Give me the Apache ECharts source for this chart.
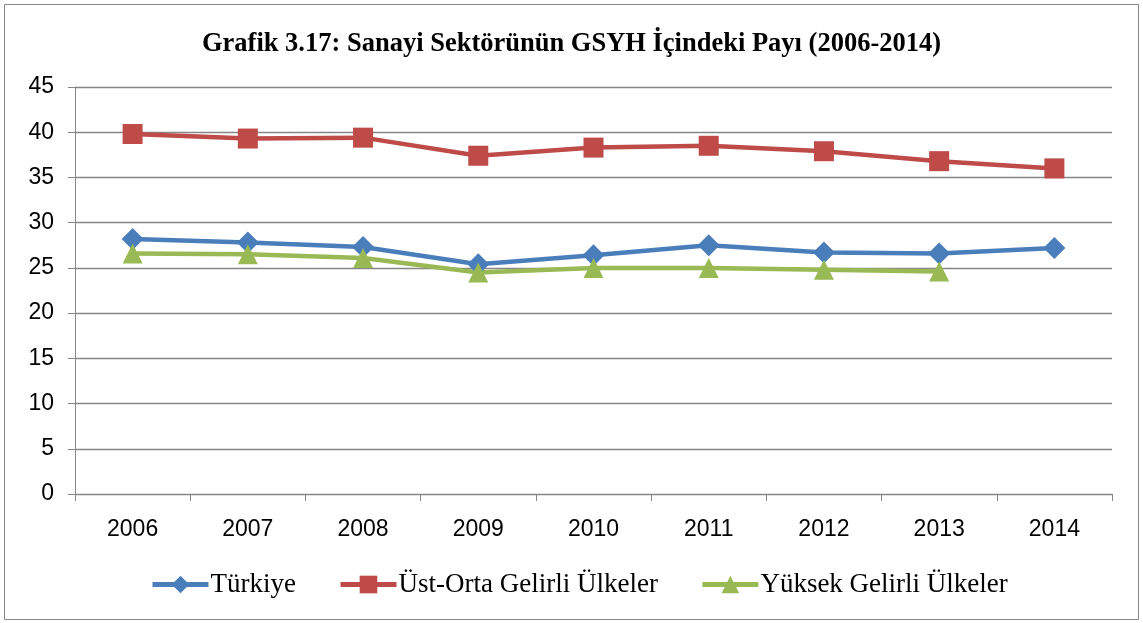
<!DOCTYPE html>
<html>
<head>
<meta charset="utf-8">
<script src="https://cdn.jsdelivr.net/npm/echarts@6/dist/echarts.min.js"></script>
<style>
html,body{margin:0;padding:0;background:#fff;}
#chart{width:1143px;height:623px;}
</style>
</head>
<body>
<div id="chart"></div>
<script>
// yıllar ve seriler
var years = ['2006','2007','2008','2009','2010','2011','2012','2013','2014'];
var turkiye = [28.2, 27.8, 27.3, 25.4, 26.4, 27.5, 26.7, 26.6, 27.2];
var ustOrta = [39.8, 39.3, 39.4, 37.4, 38.3, 38.5, 37.9, 36.8, 36.0];
var yuksek = [26.6, 26.5, 26.1, 24.5, 25.0, 25.0, 24.8, 24.6, null];
var seriesNames = ['Türkiye', 'Üst-Orta Gelirli Ülkeler', 'Yüksek Gelirli Ülkeler'];

var chart = echarts.init(document.getElementById('chart'));

function lineSeries(name, data, color, symbol, size){
	return {
		name: name,
		type: 'line',
		data: data,
		symbol: symbol,
		symbolSize: size,
		connectNulls: false,
		lineStyle: {width: 4.5, color: color},
		itemStyle: {color: color},
		emphasis: {disabled: true},
		animation: false
	};
}

var option = {
	backgroundColor: '#fff',
	title: {
		text: 'Grafik 3.17: Sanayi Sektörünün GSYH İçindeki Payı (2006-2014)',
		left: 'center',
		top: 26,
		textStyle: {fontFamily: 'Liberation Serif', fontWeight: 'bold', fontSize: 26.5, color: '#000'}
	},
	legend: {
		bottom: 20,
		left: 145,
		itemWidth: 56,
		itemHeight: 22,
		itemGap: 42,
		data: seriesNames,
		lineStyle: {width: 5},
		textStyle: {fontFamily: 'Liberation Serif', fontSize: 27, color: '#000', padding: [0, 0, 0, -3]}
	},
	grid: {left: 75, right: 31, top: 87, bottom: 129},
	xAxis: {
		type: 'category',
		data: years,
		boundaryGap: true,
		axisLine: {lineStyle: {color: '#868686', width: 1}},
		axisTick: {show: true, interval: 0, length: 7, lineStyle: {color: '#868686'}},
		axisLabel: {margin: 24, fontFamily: 'Liberation Sans', fontSize: 23, color: '#000'}
	},
	yAxis: {
		type: 'value',
		min: 0,
		max: 45,
		interval: 5,
		axisLine: {show: true, lineStyle: {color: '#868686', width: 1}},
		axisTick: {show: true, length: 7, lineStyle: {color: '#868686'}},
		axisLabel: {margin: 21, fontFamily: 'Liberation Sans', fontSize: 23, color: '#000'},
		splitLine: {lineStyle: {color: '#868686', width: 1.3}}
	},
	graphic: [{
		type: 'rect',
		shape: {x: 4.5, y: 4.5, width: 1134, height: 615},
		style: {fill: 'none', stroke: '#868686', lineWidth: 1},
		silent: true
	}],
	series: [
		lineSeries(seriesNames[0], turkiye, '#4a7ebb', 'diamond', 22),
		lineSeries(seriesNames[1], ustOrta, '#be4b48', 'rect', 20),
		lineSeries(seriesNames[2], yuksek, '#98b954', 'triangle', 20)
	]
};

chart.setOption(option);
</script>
</body>
</html>
